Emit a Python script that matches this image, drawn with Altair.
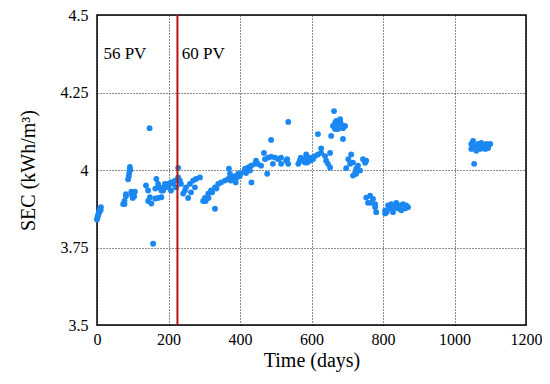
import altair as alt
import pandas as pd

# --- data ---
days = [
    0, 1, 2, 3, 5, 6, 7, 9, 10, 11,
    73, 77, 77, 81, 81, 87, 89, 90, 91, 92, 93, 96, 98, 100, 102, 104, 106,
    147, 157,
    137, 143, 143, 148, 152, 163, 166, 171, 176, 180, 185, 190, 199, 207, 213,
    171, 180, 190, 199, 207, 218, 227, 232, 227, 235, 163, 207, 221,
    241, 246, 249, 255, 260, 263, 269, 274, 277, 288,
    297, 302, 304, 311, 312, 319, 322, 330, 334, 339, 347, 358, 367, 375, 386, 395, 330, 369,
    372, 374, 386, 395, 403, 414, 423, 431, 442, 391, 399, 417, 428, 432, 388,
    445, 450, 459, 467, 476, 470, 479, 487, 498, 507, 515, 487, 492, 515, 529, 535, 532, 535,
    563, 571, 582, 590,
    567, 570, 582, 590, 599, 610, 618, 627, 627, 638, 641, 646, 652, 652, 588, 596, 604, 585,
    663, 655, 618, 660, 666, 669, 674, 680, 683, 688, 694, 666, 674, 688, 680,
    711, 703, 697, 708, 716, 722, 725, 730, 716, 736, 744, 750, 753, 725,
    753, 764, 772, 758, 767, 778, 778, 781,
    806, 806, 814, 820, 823, 834, 837, 842, 848, 851, 856, 862, 865, 870, 828, 810,
    1047, 1047, 1058, 1066, 1072, 1080, 1089, 1094, 1100, 1061, 1086, 1052, 1075, 1055,
]
sec = [
    3.840, 3.845, 3.850, 3.855, 3.860, 3.865, 3.870, 3.875, 3.870, 3.880,
    3.890, 3.900, 3.890, 3.922, 3.915, 3.970, 3.980, 3.990, 4.000, 4.010, 4.000, 3.930, 3.920, 3.910, 3.925, 3.915, 3.930,
    4.135, 3.762,
    3.950, 3.934, 3.900, 3.912, 3.892, 3.940, 3.971, 3.955, 3.944, 3.912, 3.934, 3.955, 3.944, 3.960, 3.955,
    3.910, 3.934, 3.944, 3.955, 3.960, 3.966, 3.976, 3.966, 4.007, 3.955, 3.908, 3.934, 3.944,
    3.924, 3.934, 3.944, 3.910, 3.955, 3.928, 3.966, 3.944, 3.971, 3.976,
    3.900, 3.910, 3.900, 3.924, 3.910, 3.934, 3.928, 3.944, 3.940, 3.955, 3.960, 3.966, 3.971, 3.976, 3.980, 3.980, 3.875, 4.004,
    3.988, 3.966, 3.976, 3.988, 3.990, 4.004, 4.008, 4.014, 4.020, 3.976, 3.980, 3.990, 3.998, 3.960, 3.960,
    4.030, 4.020, 4.014, 4.055, 3.988, 4.035, 4.040, 4.043, 4.040, 4.035, 4.040, 4.097, 4.020, 4.020, 4.030, 4.020, 4.035, 4.155,
    4.020, 4.030, 4.035, 4.040,
    4.030, 4.040, 4.024, 4.035, 4.040, 4.045, 4.050, 4.055, 4.070, 4.045, 4.030, 4.020, 4.008, 4.055, 4.024, 4.030, 4.035, 4.050,
    4.190, 4.110, 4.116, 4.142, 4.152, 4.158, 4.148, 4.158, 4.148, 4.135, 4.142, 4.132, 4.132, 4.100, 4.164,
    4.050, 4.035, 4.006, 4.020, 4.024, 3.990, 4.004, 4.014, 3.982, 3.998, 4.035, 4.023, 4.030, 3.988,
    3.911, 3.917, 3.907, 3.894, 3.894, 3.890, 3.880, 3.864,
    3.870, 3.860, 3.886, 3.876, 3.890, 3.880, 3.894, 3.876, 3.886, 3.870, 3.890, 3.876, 3.886, 3.880, 3.864, 3.864,
    4.084, 4.068, 4.078, 4.084, 4.068, 4.078, 4.084, 4.071, 4.084, 4.062, 4.068, 4.094, 4.087, 4.020,
]

switch_day = [225]
label_text = ["56 PV", "60 PV"]
label_day = [78, 297]
label_sec = [4.375, 4.375]

x_ticks = [0, 200, 400, 600, 800, 1000, 1200]
y_ticks = [3.5, 3.75, 4, 4.25, 4.5]

df = pd.DataFrame({"day": days, "sec": sec})
df_rule = pd.DataFrame({"day": switch_day})
df_text = pd.DataFrame({"t": label_text, "day": label_day, "sec": label_sec})

FONT = "Liberation Serif"

xscale = alt.Scale(domain=[0, 1200], nice=False, zero=False)
yscale = alt.Scale(domain=[3.5, 4.5], nice=False, zero=False)

points = alt.Chart(df).mark_circle(size=34, color="#1a87f2", opacity=1).encode(
    x=alt.X("day:Q", scale=xscale,
            axis=alt.Axis(title="Time (days)", values=x_ticks, labelPadding=6,
                          titlePadding=3, format="d", labelFlush=False)),
    y=alt.Y("sec:Q", scale=yscale,
            axis=alt.Axis(title="SEC (kWh/m³)", values=y_ticks, labelPadding=9,
                          titlePadding=22, labelExpr="'' + datum.value",
                          labelFlush=False)),
)

rule = alt.Chart(df_rule).mark_rule(color="#b81414", strokeWidth=2).encode(
    x=alt.X("day:Q", scale=xscale)
)

text = alt.Chart(df_text).mark_text(font=FONT, fontSize=17, color="black").encode(
    x=alt.X("day:Q", scale=xscale),
    y=alt.Y("sec:Q", scale=yscale),
    text="t:N",
)

chart = (points + rule + text).properties(
    width=429, height=310,
    autosize=alt.AutoSizeParams(type="none"),
    padding={"left": 89, "top": 7, "right": 16, "bottom": 50},
).configure_view(
    stroke="black", strokeWidth=1.5
).configure_axis(
    labelFont=FONT, titleFont=FONT, labelFontSize=16, titleFontSize=20,
    labelColor="black", titleColor="black", titleFontWeight="normal",
    grid=True, gridColor="black", gridDash=[1, 2], gridOpacity=0.9, gridWidth=1,
    domain=False, ticks=False,
)

chart.save("out.html", embed_options={"renderer": "svg", "actions": False})
